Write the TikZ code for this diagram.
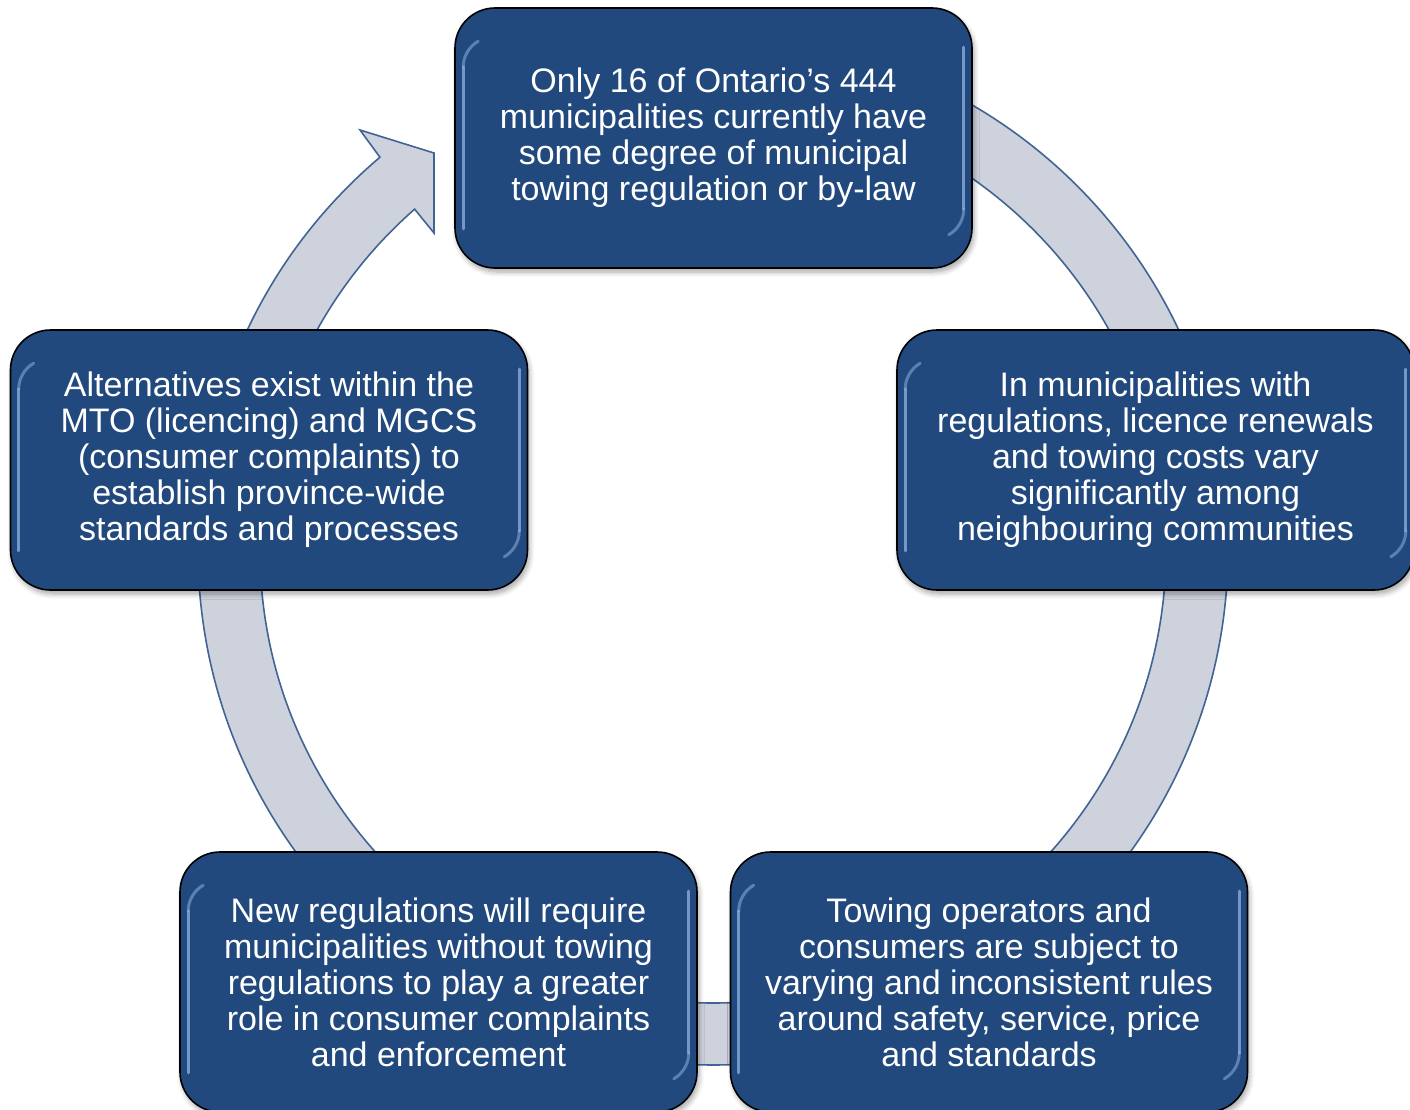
\documentclass[tikz,border=0pt]{standalone}
\usepackage{fontspec}
\setmainfont{Liberation Sans}
\usetikzlibrary{shadows.blur}
\definecolor{boxblue}{RGB}{33,73,126}
\definecolor{ringfill}{RGB}{205,210,220}
\definecolor{ringline}{RGB}{66,100,148}
\definecolor{hiblue}{RGB}{150,185,230}
\tikzset{
  stepbox/.style={rounded corners=40, fill=boxblue, draw=black, line width=1.6,
    minimum width=517, minimum height=260, align=center, text=white,
    font=\fontsize{34}{36}\selectfont,
    blur shadow={shadow xshift=2, shadow yshift=-4, shadow blur steps=6, shadow blur radius=5, shadow opacity=35}},
  ringstyle/.style={fill=ringfill, draw=ringline, line width=1.6, line join=miter},
  hilite/.style={draw=hiblue, line width=3, opacity=0.7, line cap=round}
}
\begin{document}
\begin{tikzpicture}[x=1pt,y=1pt]
\useasboundingbox (0,0) rectangle (1410,-1110);
% ring with arrowhead
\begin{scope}[shift={(713,-550)}]
\draw[ringstyle] (130.3:515) arc[start angle=130.3, end angle=450, radius=515]
  -- (90:453) arc[start angle=450, end angle=131.2, radius=453]
  -- (-279,317) -- (-279,397) -- (-353,420) -- cycle;
\end{scope}
% boxes
\node[stepbox] (top) at (713.5,-138) {Only 16 of Ontario’s 444\\municipalities currently have\\some degree of municipal\\towing regulation or by-law};
\node[stepbox] (right) at (1155.5,-460) {In municipalities with\\regulations, licence renewals\\and towing costs vary\\significantly among\\neighbouring communities};
\node[stepbox] (bright) at (989,-982) {Towing operators and\\consumers are subject to\\varying and inconsistent rules\\around safety, service, price\\and standards};
\node[stepbox] (bleft) at (438.5,-982) {New regulations will require\\municipalities without towing\\regulations to play a greater\\role in consumer complaints\\and enforcement};
\node[stepbox] (left) at (269,-460) {Alternatives exist within the\\MTO (licencing) and MGCS\\(consumer complaints) to\\establish province-wide\\standards and processes};
% bevel highlights
\foreach \n in {top,right,bright,bleft,left}{
  \draw[hilite] ([shift={(9,-60)}]\n.north west) -- ([shift={(9,40)}]\n.south west);
  \draw[hilite, opacity=0.5] ([shift={(9,-60)}]\n.north west) arc[start angle=180, end angle=120, radius=30];
  \draw[hilite] ([shift={(-9,-40)}]\n.north east) -- ([shift={(-9,60)}]\n.south east);
  \draw[hilite, opacity=0.5] ([shift={(-9,60)}]\n.south east) arc[start angle=0, end angle=-60, radius=30];
}
\end{tikzpicture}
\end{document}
